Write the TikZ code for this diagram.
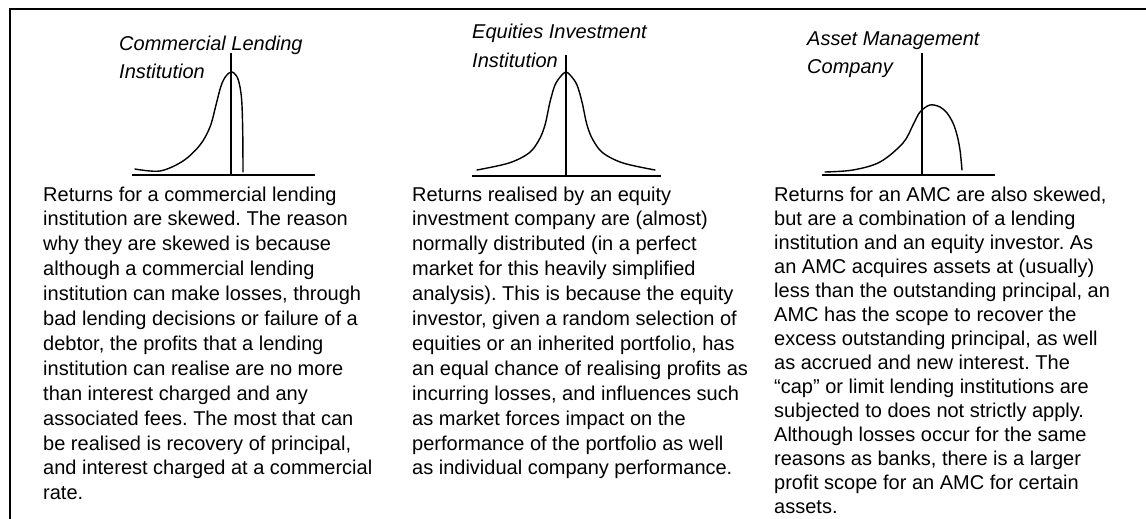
\documentclass[tikz,border=0pt]{standalone}
\usepackage{fontspec}
\setmainfont{Liberation Sans}
\frenchspacing
\tikzset{
  frameline/.style={line width=2pt},
  axisline/.style={line width=2pt},
  meanline/.style={line width=1.6pt},
  distcurve/.style={line width=1.4pt, line join=round, line cap=round},
  titletext/.style={anchor=base west, inner sep=0pt, align=left, font=\fontsize{20}{28.8}\selectfont\itshape},
  bodytext/.style={anchor=base west, inner sep=0pt, align=left, font=\fontsize{20}{24.9}\selectfont},
  bodytextb/.style={anchor=base west, inner sep=0pt, align=left, font=\fontsize{20}{24.0}\selectfont},
}
\begin{document}
\begin{tikzpicture}[x=1pt, y=-1pt]
\useasboundingbox (0,0) rectangle (1146,519);
% frame
\coordinate (fbl) at (10,519);
\coordinate (ftl) at (10,9.5);
\coordinate (ftr) at (1146,9.5);
\draw[frameline] (fbl) -- (ftl) -- (ftr);

% ---- panel 1 ----
% (base anchor of a multi-line node = baseline of its last line)
\node[titletext] (t1) at (119,78.8) {Commercial Lending\\Institution};
\draw[axisline] (132,175) -- (315,175);
\draw[meanline] (231,53) -- (231,175);
\draw[distcurve] plot[smooth, tension=0.55] coordinates {(135,169) (160,171) (183,161) (200,145) (210,127) (216,105) (221,86) (226,76) (232,72) (238,79) (241.5,98) (242.7,130) (243,172)};
\node[bodytext] (b1) at (43,499.8) {Returns for a commercial lending\\
institution are skewed. The reason\\
why they are skewed is because\\
although a commercial lending\\
institution can make losses, through\\
bad lending decisions or failure of a\\
debtor, the profits that a lending\\
institution can realise are no more\\
than interest charged and any\\
associated fees. The most that can\\
be realised is recovery of principal,\\
and interest charged at a commercial\\
rate.};

% ---- panel 2 ----
\node[titletext] (t2) at (472,67.3) {Equities Investment\\Institution};
\draw[axisline] (472,176) -- (661,176);
\draw[meanline] (566,55) -- (566,176);
\draw[distcurve] plot[smooth, tension=0.55] coordinates {(477,170) (509,163) (529,153) (539,140) (545,125) (550,102) (555,85) (561,76) (566,72) (571,76) (577,85) (582,102) (587,125) (593,140) (603,153) (623,163) (655,170)};
\node[bodytext] (b2) at (412,474.9) {Returns realised by an equity\\
investment company are (almost)\\
normally distributed (in a perfect\\
market for this heavily simplified\\
analysis). This is because the equity\\
investor, given a random selection of\\
equities or an inherited portfolio, has\\
an equal chance of realising profits as\\
incurring losses, and influences such\\
as market forces impact on the\\
performance of the portfolio as well\\
as individual company performance.};

% ---- panel 3 ----
\node[titletext] (t3) at (807,73.8) {Asset Management\\Company};
\draw[axisline] (822,175) -- (995,175);
\draw[meanline] (922,53) -- (922,175);
\draw[distcurve] plot[smooth, tension=0.55] coordinates {(825,172) (853,170) (880,162) (903,143) (913,125) (920,112) (930,105) (940,107) (947,113) (953,123) (957,135) (960,150) (962,170)};
\node[bodytextb] (b3) at (774,513) {Returns for an AMC are also skewed,\\
but are a combination of a lending\\
institution and an equity investor. As\\
an AMC acquires assets at (usually)\\
less than the outstanding principal, an\\
AMC has the scope to recover the\\
excess outstanding principal, as well\\
as accrued and new interest. The\\
“cap” or limit lending institutions are\\
subjected to does not strictly apply.\\
Although losses occur for the same\\
reasons as banks, there is a larger\\
profit scope for an AMC for certain\\
assets.};
\end{tikzpicture}
\end{document}
